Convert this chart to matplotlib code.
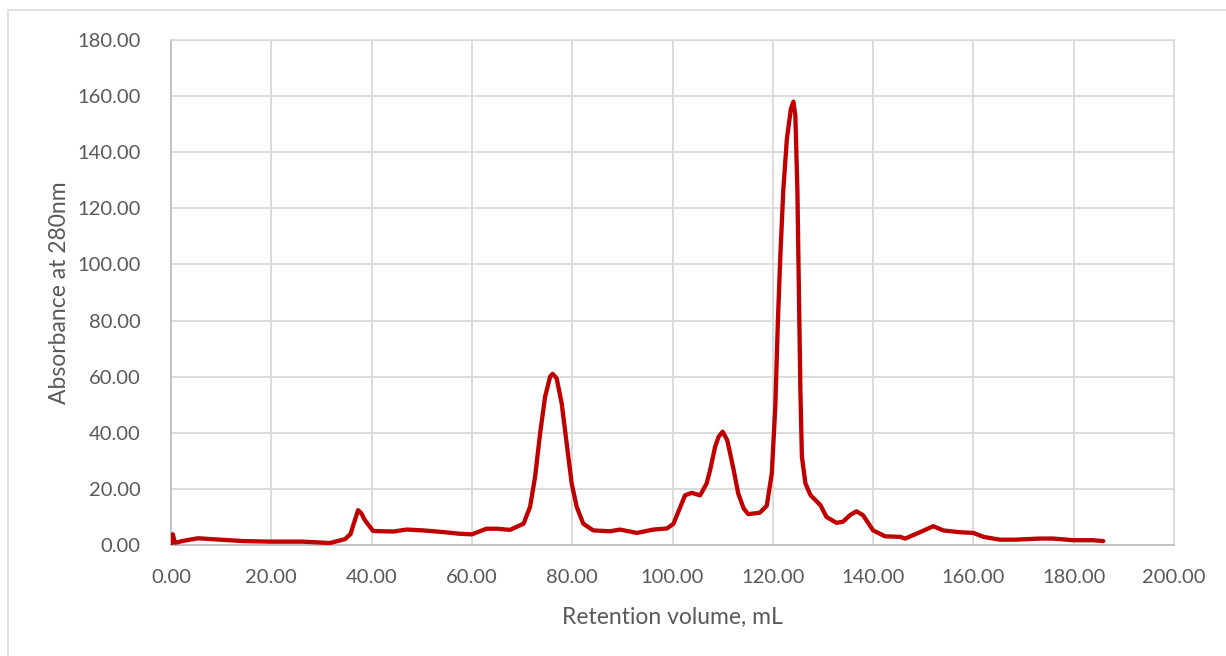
import matplotlib
matplotlib.use("Agg")
import matplotlib.pyplot as plt
from matplotlib.patches import Rectangle

# retention volume (mL) and absorbance
volume = [0.1, 0.35, 0.8, 2.5, 5.4, 9.8, 14.4, 19.7, 26.3, 31.7, 34.7, 35.8,
          36.6, 37.3, 38.0, 38.6, 40.3, 44.3, 47.0, 50.3, 54.3, 57.6, 60.0,
          62.9, 65.0, 67.6, 70.3, 71.6, 72.6, 73.6, 74.6, 75.6, 76.1, 76.9,
          77.9, 78.9, 79.9, 80.9, 82.2, 84.2, 87.5, 89.5, 92.9, 96.2, 98.9,
          100.2, 102.5, 103.8, 105.5, 106.8, 107.5, 108.5, 109.2, 110.0,
          110.9, 111.5, 112.2, 113.1, 114.2, 115.1, 117.4, 118.8, 119.8,
          120.5, 121.0, 121.5, 122.1, 122.8, 123.6, 124.1, 124.5, 124.9,
          125.2, 125.5, 125.8, 126.5, 127.5, 129.5, 130.7, 132.7, 134.0,
          135.5, 136.7, 138.0, 140.0, 142.4, 145.4, 146.4, 149.4, 152.0,
          154.0, 157.0, 160.0, 162.0, 165.3, 168.4, 173.3, 175.9, 179.9,
          183.9, 185.9]
absorbance = [0.5, 3.8, 0.8, 1.5, 2.4, 1.9, 1.4, 1.2, 1.2, 0.7, 2.1, 3.9,
              8.5, 12.4, 11.2, 9.0, 5.0, 4.8, 5.5, 5.2, 4.6, 4.0, 3.8,
              5.8, 5.8, 5.4, 7.6, 13.6, 24.3, 39.8, 52.9, 60.0, 61.0, 59.4,
              50.5, 36.2, 21.9, 13.6, 7.6, 5.2, 4.9, 5.5, 4.3, 5.5, 5.9,
              7.6, 17.7, 18.6, 17.7, 21.9, 26.7, 35.0, 38.6, 40.4,
              37.4, 32.6, 26.7, 18.4, 13.0, 11.0, 11.5, 14.0, 25.5,
              49.3, 79.1, 102.9, 126.7, 144.6, 155.4, 158.0, 153.0, 126.7,
              91.0, 55.3, 31.5, 22.0, 17.8, 14.2, 10.0, 7.9, 8.3,
              10.8, 12.0, 10.6, 5.2, 3.1, 2.9, 2.3, 4.6, 6.7,
              5.2, 4.6, 4.3, 2.9, 1.9, 1.9, 2.3, 2.3, 1.7,
              1.7, 1.4]

x_ticks = [0, 20, 40, 60, 80, 100, 120, 140, 160, 180, 200]
y_ticks = [0, 20, 40, 60, 80, 100, 120, 140, 160, 180]

plt.rcParams['font.family'] = ['Lato', 'DejaVu Sans']
text_color = '#595959'
grid_color = '#d9d9d9'

fig = plt.figure(figsize=(12.26, 6.56), dpi=100)
ax = fig.add_axes([171 / 1226, 1 - 545 / 656, (1174 - 171) / 1226, (545 - 40) / 656])

# chart area border
fig.patches.append(Rectangle((8 / 1226, -0.05), 1.1, 1 - 10 / 656 + 0.05,
                             transform=fig.transFigure, fill=False,
                             edgecolor=grid_color, linewidth=1.2))

ax.plot(volume, absorbance, color='#c00000', linewidth=3.1,
        solid_joinstyle='round', solid_capstyle='round', zorder=3)

ax.set_xlim(0, 200)
ax.set_ylim(0, 180)
ax.set_xticks(x_ticks)
ax.set_yticks(y_ticks)
ax.set_xticklabels([f'{v:.2f}' for v in x_ticks])
ax.set_yticklabels([f'{v:.2f}' for v in y_ticks])
ax.tick_params(length=0, labelsize=14.5, colors=text_color, pad=17)
ax.tick_params(axis='y', pad=22)
ax.grid(True, color=grid_color, linewidth=1.3)
ax.set_axisbelow(True)
for side in ['top', 'right']:
    ax.spines[side].set_color(grid_color)
    ax.spines[side].set_linewidth(1.2)
for side in ['left', 'bottom']:
    ax.spines[side].set_color('#bfbfbf')
    ax.spines[side].set_linewidth(1.3)

ax.set_xlabel('Retention volume, mL', fontsize=16.5, color=text_color, labelpad=15)
ax.set_ylabel('Absorbance at 280nm', fontsize=16.5, color=text_color, labelpad=5)

fig.savefig('out.png', dpi=100)
